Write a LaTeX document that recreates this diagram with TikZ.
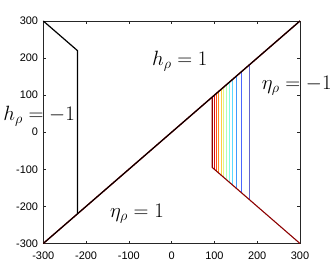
\documentclass[tikz,border=0pt]{standalone}
\usepackage{amsmath}
\usepackage{fontspec}
\newfontfamily\ticksfont{Liberation Sans}
\usetikzlibrary{calc}

\definecolor{axisgray}{gray}{0.15}
\definecolor{jA}{rgb}{0.55,0,0}
\definecolor{jB}{rgb}{0.85,0.05,0.05}
\definecolor{jC}{rgb}{1,0.3,0.1}
\definecolor{jD}{rgb}{1,0.55,0.1}
\definecolor{jE}{rgb}{1,0.8,0.25}
\definecolor{jF}{rgb}{0.9,0.97,0.5}
\definecolor{jG}{rgb}{0.7,1,0.7}
\definecolor{jH}{rgb}{0.5,1,0.9}
\definecolor{jI}{rgb}{0.35,0.85,1}
\definecolor{jJ}{rgb}{0.25,0.6,1}
\definecolor{jK}{rgb}{0.3,0.4,1}
\definecolor{jL}{rgb}{0.4,0.4,0.8}

\begin{document}
\begin{tikzpicture}[x=0.4278bp,y=0.3708bp,
    axtick/.style={axisgray,line width=0.5bp},
    ticklabel/.style={font=\ticksfont\fontsize{11}{13}\selectfont,text=black},
    region/.style={font=\fontsize{19.5}{23}\selectfont,inner sep=0pt,anchor=base west}]
  \useasboundingbox (-401.2,-385) rectangle (374.9,356.6);

  \coordinate (sw) at (-300,-300);
  \coordinate (se) at (300,-300);
  \coordinate (nw) at (-300,300);
  \coordinate (ne) at (300,300);
  \coordinate (hk) at (-220,220);
  \coordinate (hb) at (-220,-220);
  \coordinate (ek) at (95,-95);
  \coordinate (et) at (95,95);

  % axes box with ticks
  \draw[axisgray,line width=0.6bp] (sw) rectangle (ne);
  \foreach \v in {-300,-200,...,300} {
    \draw[axtick] (\v,-300) -- ++(0,7);
    \draw[axtick] (\v,300) -- ++(0,-7);
    \draw[axtick] (-300,\v) -- ++(6,0);
    \draw[axtick] (300,\v) -- ++(-6,0);
    \node[ticklabel,anchor=north,inner sep=0pt] (xl\v) at ($(\v,-300)+(0,-8bp)$) {\v};
    \node[ticklabel,anchor=east,inner sep=0pt] (yl\v) at ($(-300,\v)+(-5bp,0)$) {\v};
  }

  % level lines
  \foreach \xv/\col in {99.7/jB,105.3/jC,110.7/jD,116.1/jE,122.4/jF,129.4/jG,
                        135.7/jH,142.7/jI,152.1/jJ,163.8/jK,181.5/jL} {
    \draw[\col,line width=1bp] (\xv,-\xv) -- (\xv,\xv);
  }
  \draw[jA,line width=1.1bp] (et) -- (ek) -- (se);
  \draw[jA,line width=1.4bp] (sw) -- (ne);
  \draw[black,line width=1bp] (sw) -- (ne);
  \draw[black,line width=1.2bp] (nw) -- (hk) -- (hb);

  % region labels
  \node[region] (hp) at (-46,181) {$h_\rho = 1$};
  \node[region] (hm) at (-393.5,31) {$h_\rho = -1$};
  \node[region] (ep) at (-144,-231) {$\eta_\rho = 1$};
  \node[region] (em) at (210.5,114.7) {$\eta_\rho = -1$};
\end{tikzpicture}
\end{document}
